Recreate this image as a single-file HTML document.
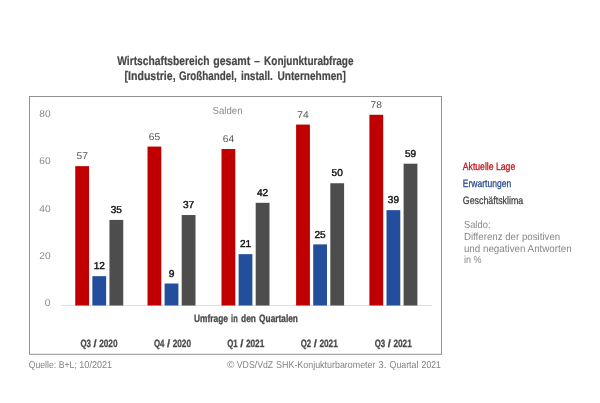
<!DOCTYPE html>
<html lang="de">
<head>
<meta charset="utf-8">
<title>Wirtschaftsbereich gesamt – Konjunkturabfrage</title>
<style>
html,body{margin:0;padding:0;background:#fff;}
body{width:600px;height:403px;overflow:hidden;font-family:"Liberation Sans",sans-serif;}
svg{display:block;}
text{font-family:"Liberation Sans",sans-serif;text-rendering:geometricPrecision;}
.t{font-weight:bold;fill:#464646;font-size:12.5px;stroke:#464646;stroke-width:0.2px;}
.ax{fill:#8a8a8a;font-size:9.8px;}
.lr{fill:#555;font-size:9.8px;}
.lb{fill:#111;font-size:10px;stroke:#111;stroke-width:0.4px;}
.q{fill:#4a4a4a;font-size:10.6px;font-weight:bold;stroke:#4a4a4a;stroke-width:0.3px;}
.f{fill:#828282;font-size:9.9px;}
.lg{font-size:10.7px;stroke-width:0.25px;}
.n{fill:#888;font-size:10.3px;}
</style>
</head>
<body>
<svg width="600" height="403" viewBox="0 0 600 403">
<rect x="0" y="0" width="600" height="403" fill="#ffffff"/>
<rect x="29.5" y="96.5" width="412" height="257.8" fill="none" stroke="#929292" stroke-width="1"/>
<line x1="61" y1="305.5" x2="432" y2="305.5" stroke="#e0e0e0" stroke-width="1"/>

<text class="t" y="64.6"><tspan x="117.2" textLength="92.4" lengthAdjust="spacingAndGlyphs">Wirtschaftsbereich</tspan> <tspan x="213.2" textLength="37.1" lengthAdjust="spacingAndGlyphs">gesamt</tspan> <tspan x="254.3" textLength="5.6" lengthAdjust="spacingAndGlyphs">–</tspan> <tspan x="264.1" textLength="89.4" lengthAdjust="spacingAndGlyphs">Konjunkturabfrage</tspan></text>
<text class="t" y="80.3"><tspan x="124.6" textLength="51" lengthAdjust="spacingAndGlyphs">[Industrie,</tspan> <tspan x="178.9" textLength="57.8" lengthAdjust="spacingAndGlyphs">Großhandel,</tspan> <tspan x="240.9" textLength="32" lengthAdjust="spacingAndGlyphs">install.</tspan> <tspan x="277.5" textLength="68.4" lengthAdjust="spacingAndGlyphs">Unternehmen]</tspan></text>
<text class="ax" style="font-size:10.2px" x="212.6" y="113.6" textLength="30" lengthAdjust="spacingAndGlyphs">Salden</text>
<text class="ax" x="39.3" y="117" textLength="11.3" lengthAdjust="spacingAndGlyphs">80</text>
<text class="ax" x="39.3" y="164.25" textLength="11.3" lengthAdjust="spacingAndGlyphs">60</text>
<text class="ax" x="39.3" y="211.5" textLength="11.3" lengthAdjust="spacingAndGlyphs">40</text>
<text class="ax" x="39.3" y="258.75" textLength="11.3" lengthAdjust="spacingAndGlyphs">20</text>
<text class="ax" x="44.8" y="305.7" textLength="5.7" lengthAdjust="spacingAndGlyphs">0</text>
<rect x="75.25" y="166.14" width="13.8" height="139.36" fill="#c00000"/>
<text class="lr" x="76.45" y="159.34" textLength="11.4" lengthAdjust="spacingAndGlyphs">57</text>
<rect x="92.35" y="276.16" width="13.8" height="29.34" fill="#224e9c"/>
<text class="lb" x="93.65" y="269.36" textLength="11.2" lengthAdjust="spacingAndGlyphs">12</text>
<rect x="109.45" y="219.93" width="13.8" height="85.57" fill="#4d4d4d"/>
<text class="lb" x="110.75" y="213.12" textLength="11.2" lengthAdjust="spacingAndGlyphs">35</text>
<rect x="147.50" y="146.58" width="13.8" height="158.92" fill="#c00000"/>
<text class="lr" x="148.70" y="139.78" textLength="11.4" lengthAdjust="spacingAndGlyphs">65</text>
<rect x="164.60" y="283.50" width="13.8" height="22.00" fill="#224e9c"/>
<text class="lb" x="168.65" y="276.69" textLength="5.7" lengthAdjust="spacingAndGlyphs">9</text>
<rect x="181.70" y="215.04" width="13.8" height="90.46" fill="#4d4d4d"/>
<text class="lb" x="183.00" y="208.24" textLength="11.2" lengthAdjust="spacingAndGlyphs">37</text>
<rect x="221.50" y="149.02" width="13.8" height="156.48" fill="#c00000"/>
<text class="lr" x="222.70" y="142.22" textLength="11.4" lengthAdjust="spacingAndGlyphs">64</text>
<rect x="238.60" y="254.16" width="13.8" height="51.34" fill="#224e9c"/>
<text class="lb" x="239.90" y="247.35" textLength="11.2" lengthAdjust="spacingAndGlyphs">21</text>
<rect x="255.70" y="202.81" width="13.8" height="102.69" fill="#4d4d4d"/>
<text class="lb" x="257.00" y="196.01" textLength="11.2" lengthAdjust="spacingAndGlyphs">42</text>
<rect x="296.10" y="124.57" width="13.8" height="180.93" fill="#c00000"/>
<text class="lr" x="297.30" y="117.77" textLength="11.4" lengthAdjust="spacingAndGlyphs">74</text>
<rect x="313.20" y="244.38" width="13.8" height="61.12" fill="#224e9c"/>
<text class="lb" x="314.50" y="237.57" textLength="11.2" lengthAdjust="spacingAndGlyphs">25</text>
<rect x="330.30" y="183.25" width="13.8" height="122.25" fill="#4d4d4d"/>
<text class="lb" x="331.60" y="176.45" textLength="11.2" lengthAdjust="spacingAndGlyphs">50</text>
<rect x="369.40" y="114.79" width="13.8" height="190.71" fill="#c00000"/>
<text class="lr" x="370.60" y="107.99" textLength="11.4" lengthAdjust="spacingAndGlyphs">78</text>
<rect x="386.50" y="210.15" width="13.8" height="95.35" fill="#224e9c"/>
<text class="lb" x="387.80" y="203.34" textLength="11.2" lengthAdjust="spacingAndGlyphs">39</text>
<rect x="403.60" y="163.69" width="13.8" height="141.81" fill="#4d4d4d"/>
<text class="lb" x="404.90" y="156.89" textLength="11.2" lengthAdjust="spacingAndGlyphs">59</text>
<text class="q" y="322"><tspan x="194.1" textLength="33.8" lengthAdjust="spacingAndGlyphs">Umfrage</tspan> <tspan x="231.1" textLength="6.6" lengthAdjust="spacingAndGlyphs">in</tspan> <tspan x="241.1" textLength="14.8" lengthAdjust="spacingAndGlyphs">den</tspan> <tspan x="259.1" textLength="38.8" lengthAdjust="spacingAndGlyphs">Quartalen</tspan></text>
<text class="q" y="346.6"><tspan x="80.45" textLength="10.5" lengthAdjust="spacingAndGlyphs">Q3</tspan> <tspan x="93.55" textLength="3.1" lengthAdjust="spacingAndGlyphs">/</tspan> <tspan x="99.15" textLength="18.4" lengthAdjust="spacingAndGlyphs">2020</tspan></text>
<text class="q" y="346.6"><tspan x="153.95" textLength="10.5" lengthAdjust="spacingAndGlyphs">Q4</tspan> <tspan x="167.05" textLength="3.1" lengthAdjust="spacingAndGlyphs">/</tspan> <tspan x="172.65" textLength="18.4" lengthAdjust="spacingAndGlyphs">2020</tspan></text>
<text class="q" y="346.6"><tspan x="227.2" textLength="10.5" lengthAdjust="spacingAndGlyphs">Q1</tspan> <tspan x="240.3" textLength="3.1" lengthAdjust="spacingAndGlyphs">/</tspan> <tspan x="245.9" textLength="18.4" lengthAdjust="spacingAndGlyphs">2021</tspan></text>
<text class="q" y="346.6"><tspan x="300.7" textLength="10.5" lengthAdjust="spacingAndGlyphs">Q2</tspan> <tspan x="313.8" textLength="3.1" lengthAdjust="spacingAndGlyphs">/</tspan> <tspan x="319.4" textLength="18.4" lengthAdjust="spacingAndGlyphs">2021</tspan></text>
<text class="q" y="346.6"><tspan x="374.7" textLength="10.5" lengthAdjust="spacingAndGlyphs">Q3</tspan> <tspan x="387.8" textLength="3.1" lengthAdjust="spacingAndGlyphs">/</tspan> <tspan x="393.4" textLength="18.4" lengthAdjust="spacingAndGlyphs">2021</tspan></text>
<text class="f" y="368.3"><tspan x="28.8" textLength="27.3" lengthAdjust="spacingAndGlyphs">Quelle:</tspan> <tspan x="58.7" textLength="18.2" lengthAdjust="spacingAndGlyphs">B+L;</tspan> <tspan x="79.3" textLength="32.8" lengthAdjust="spacingAndGlyphs">10/2021</tspan></text>
<text class="f" y="368.3"><tspan x="227.2" textLength="7.2" lengthAdjust="spacingAndGlyphs">©</tspan> <tspan x="236.8" textLength="36.4" lengthAdjust="spacingAndGlyphs">VDS/VdZ</tspan> <tspan x="276.1" textLength="99.4" lengthAdjust="spacingAndGlyphs">SHK-Konjukturbarometer</tspan> <tspan x="378.2" textLength="8.2" lengthAdjust="spacingAndGlyphs">3.</tspan> <tspan x="389.6" textLength="28.8" lengthAdjust="spacingAndGlyphs">Quartal</tspan> <tspan x="421.6" textLength="19.2" lengthAdjust="spacingAndGlyphs">2021</tspan></text>
<text class="lg" fill="#bf0a12" stroke="#bf0a12" x="462.8" y="169.7" textLength="52.4" lengthAdjust="spacingAndGlyphs">Aktuelle Lage</text>
<text class="lg" fill="#25478a" stroke="#25478a" x="462.8" y="186.5" textLength="48.4" lengthAdjust="spacingAndGlyphs">Erwartungen</text>
<text class="lg" fill="#444" stroke="#444" x="462.8" y="203.5" textLength="60.4" lengthAdjust="spacingAndGlyphs">Geschäftsklima</text>
<text class="n" x="463.9" y="227.9" textLength="26.6" lengthAdjust="spacingAndGlyphs">Saldo:</text>
<text class="n" x="463.9" y="240.1" textLength="96.3" lengthAdjust="spacingAndGlyphs">Differenz der positiven</text>
<text class="n" x="463.9" y="251.7" textLength="107.8" lengthAdjust="spacingAndGlyphs">und negativen Antworten</text>
<text class="n" x="463.9" y="263.4" textLength="17.5" lengthAdjust="spacingAndGlyphs">in %</text>
</svg>
</body>
</html>
